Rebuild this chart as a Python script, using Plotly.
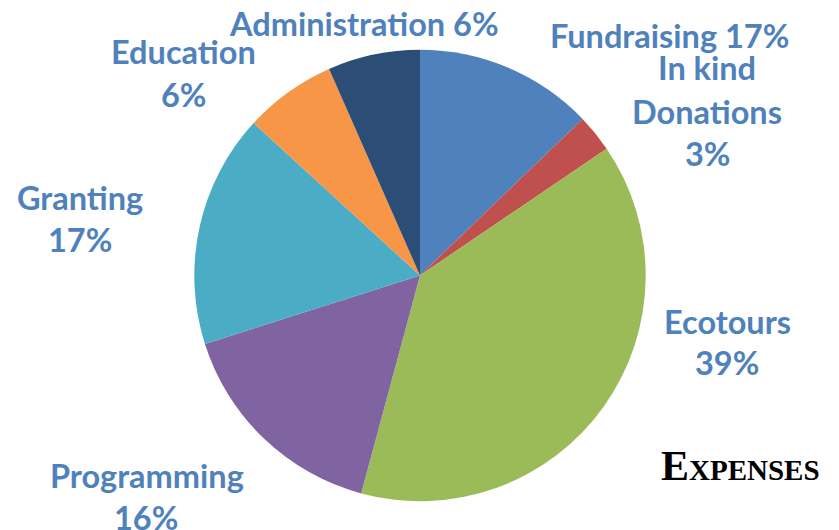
import plotly.graph_objects as go

# Data (slice sizes from angles; label text as printed)
categories = ["Fundraising", "In kind Donations", "Ecotours", "Programming",
              "Granting", "Education", "Administration"]
values = [12.8, 2.7, 38.7, 15.9, 16.7, 6.6, 6.6]
label_pcts = ["17%", "3%", "39%", "16%", "17%", "6%", "6%"]
colors = ["#4F81BD", "#C0504D", "#9BBB59", "#8064A2", "#4BACC6", "#F79646", "#2C4D75"]

W, H = 839, 530
cx, cy, r = 420, 275.5, 225.7

fig = go.Figure()
fig.add_trace(go.Pie(
    labels=categories, values=values, sort=False, direction="clockwise", rotation=0,
    marker=dict(colors=colors, line=dict(width=0)),
    textinfo="none", hoverinfo="label+percent", showlegend=False,
    domain=dict(x=[(cx - r) / W, (cx + r) / W], y=[(H - cy - r) / H, (H - cy + r) / H]),
))

label_color = "#4F81BD"
lfont = dict(family="Lato", size=32.5, color=label_color, weight="bold")

# label lines: (text, x_px, y_px)
lines = [
    (f"{categories[6]} {label_pcts[6]}", 363.5, 22),
    (f"{categories[0]} {label_pcts[0]}", 669, 33.5),
    ("In kind", 707, 66),
    ("Donations", 706.5, 109.5),
    (label_pcts[1], 707, 151.5),
    (categories[2], 727, 319),
    (label_pcts[2], 727, 360),
    (categories[3], 146.5, 473),
    (label_pcts[3], 146, 515),
    (categories[4], 80, 195),
    (label_pcts[4], 80, 237),
    (categories[5], 183.5, 50),
    (label_pcts[5], 183, 93),
]
for t, x, y in lines:
    fig.add_annotation(text=t, x=x / W, y=1 - (y + 2) / H, xref="paper", yref="paper",
                       xanchor="center", yanchor="middle", showarrow=False, font=lfont)

fig.add_annotation(text="Expenses", x=740 / W, y=1 - 466 / H, xref="paper", yref="paper",
                   xanchor="center", yanchor="middle", showarrow=False,
                   font=dict(family="Liberation Serif", size=42, color="#000000",
                             weight="bold", variant="small-caps"))

fig.update_layout(width=W, height=H, margin=dict(l=0, r=0, t=0, b=0),
                  paper_bgcolor="white", plot_bgcolor="white")
fig.write_html("out.html", config={"displayModeBar": False},
               post_script="document.body.style.margin='0px';")
